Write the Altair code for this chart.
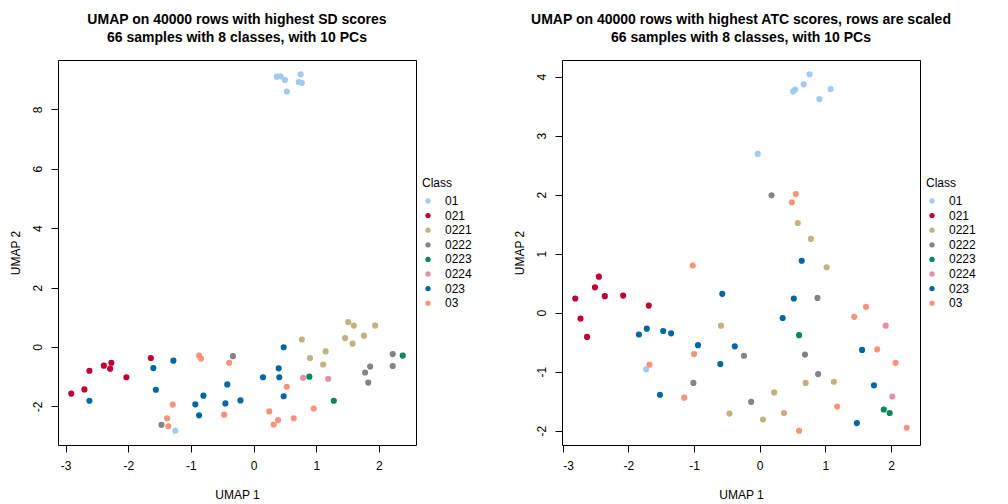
import altair as alt
import pandas as pd

classes = ["01", "021", "0221", "0222", "0223", "0224", "023", "03"]
colors = ["#A1CAF1", "#BE0032", "#C2B280", "#848482", "#008856", "#E68FAC", "#0067A5", "#F99379"]

# Left panel: UMAP on SD scores
left_cls = (["01"] * 8 + ["021"] * 8 + ["0221"] * 10 + ["0222"] * 7 + ["0223"] * 3
            + ["0224"] * 2 + ["023"] * 15 + ["03"] * 13)
left_x = [0.37, 0.43, 0.50, 0.75, 0.72, 0.77, 0.53, -1.25,
          -2.91, -2.70, -2.62, -2.39, -2.27, -2.29, -2.03, -1.64,
          1.51, 1.60, 1.94, 0.77, 1.46, 1.76, 1.58, 1.15, 0.90, 1.11,
          -0.33, -1.47, 2.22, 2.22, 1.86, 1.78, 1.83,
          2.38, 0.89, 1.28,
          0.79, 1.19,
          -2.62, -1.60, -1.56, -1.28, -0.93, -0.80, -0.87, -0.42, -0.45, -0.21, 0.15, 0.48, 0.40, 0.41, 0.48,
          -0.87, -0.84, -0.39, -1.29, -1.38, -1.36, -0.47, 0.25, 0.53, 0.96, 0.64, 0.39, 0.32]
left_y = [9.10, 9.11, 8.99, 9.18, 8.92, 8.89, 8.60, -2.82,
          -1.57, -1.43, -0.80, -0.63, -0.53, -0.73, -1.02, -0.37,
          0.84, 0.72, 0.72, 0.25, 0.30, 0.38, 0.11, -0.15, -0.37, -0.59,
          -0.31, -2.62, -0.24, -0.64, -0.66, -0.86, -1.20,
          -0.29, -1.00, -1.81,
          -1.04, -1.07,
          -1.81, -0.71, -1.44, -0.46, -1.93, -1.64, -2.30, -1.26, -1.90, -1.80, -1.02, -0.01, -0.72, -1.02, -1.66,
          -0.29, -0.39, -0.53, -1.94, -2.40, -2.67, -2.28, -2.17, -1.34, -2.07, -2.40, -2.46, -2.61]

# Right panel: UMAP on ATC scores
right_cls = left_cls
right_x = [0.76, 0.67, 0.54, 0.51, 1.08, 0.91, -0.03, -1.73,
           -2.81, -2.45, -2.51, -2.36, -2.08, -1.69, -2.73, -2.63,
           -0.59, -0.46, 0.05, 0.70, 1.13, 0.22, 0.37, 0.58, 0.78, 1.02,
           -0.24, -1.01, -0.13, 0.88, 0.69, 0.89, 0.18,
           0.60, 1.89, 1.98,
           1.92, 2.02,
           -0.57, -1.84, -1.72, -1.47, -1.35, -0.94, -0.38, -0.60, -1.52, 0.52, 0.35, 1.56, 1.74, 1.48, 0.64,
           -1.02, -1.00, -1.68, -1.15, 1.62, 1.44, 1.79, 2.07, 1.18, 0.60, 2.24, 0.55, 0.49]
right_y = [4.04, 3.87, 3.78, 3.75, 3.79, 3.62, 2.69, -0.96,
           0.24, 0.61, 0.43, 0.28, 0.29, 0.12, -0.10, -0.41,
           -0.22, -1.71, -1.81, -1.19, -1.17, -1.35, -1.70, 1.52, 1.25, 0.77,
           -0.73, -1.19, -1.51, 0.25, -0.71, -1.04, 1.99,
           -0.38, -1.64, -1.70,
           -0.22, -1.42,
           0.32, -0.37, -0.27, -0.31, -0.35, -0.55, -0.57, -0.87, -1.39, 0.24, -0.09, -0.63, -1.23, -1.87, 0.88,
           0.80, -0.70, -0.88, -1.44, 0.10, -0.07, -0.62, -0.85, -1.59, -2.00, -1.95, 2.01, 1.87]

left_title = ["UMAP on 40000 rows with highest SD scores", "66 samples with 8 classes, with 10 PCs"]
right_title = ["UMAP on 40000 rows with highest ATC scores, rows are scaled", "66 samples with 8 classes, with 10 PCs"]
left_xticks = [-3, -2, -1, 0, 1, 2]
left_yticks = [-2, 0, 2, 4, 6, 8]
right_xticks = [-3, -2, -1, 0, 1, 2]
right_yticks = [-2, -1, 0, 1, 2, 3, 4]

FONT = "Liberation Sans"
W, H = 358, 385


def ext(vals):
    lo, hi = min(vals), max(vals)
    d = (hi - lo) * 0.04
    return [lo - d, hi + d]


def panel(xs, ys, cls, title, xticks, yticks):
    df = pd.DataFrame({"x": xs, "y": ys, "cls": cls})
    return alt.Chart(df).mark_circle(size=38, opacity=1).encode(
        x=alt.X("x:Q", scale=alt.Scale(domain=ext(xs), nice=False, zero=False),
                axis=alt.Axis(values=xticks, title="UMAP 1", labelExpr="'' + datum.value")),
        y=alt.Y("y:Q", scale=alt.Scale(domain=ext(ys), nice=False, zero=False),
                axis=alt.Axis(values=yticks, title="UMAP 2", labelExpr="'' + datum.value",
                              labelAngle=-90, labelAlign="center", labelBaseline="bottom")),
        color=alt.Color("cls:N", scale=alt.Scale(domain=classes, range=colors),
                        legend=alt.Legend(title="Class", orient="none", legendX=W + 6, legendY=118)),
    ).properties(width=W, height=H,
                 title=alt.Title(text=title, anchor="middle", fontSize=14, fontWeight="bold",
                                 font=FONT, lineHeight=18, offset=15))


left = panel(left_x, left_y, left_cls, left_title, left_xticks, left_yticks)
right = panel(right_x, right_y, right_cls, right_title, right_xticks, right_yticks)

chart = alt.hconcat(left, right, spacing=39).resolve_legend(color="independent").configure(
    font=FONT, padding={"left": 0, "top": 4, "right": 0, "bottom": 0}
).configure_view(
    stroke="black", strokeWidth=1
).configure_axis(
    grid=False, domain=False, tickColor="black", tickSize=7, labelFontSize=12, titleFontSize=12,
    titleFontWeight="normal", labelColor="black", titleColor="black", labelFont=FONT, titleFont=FONT,
    labelPadding=8
).configure_axisX(
    titlePadding=18
).configure_axisY(
    labelPadding=7, titlePadding=9
).configure_legend(
    symbolType="circle", symbolSize=28, labelFontSize=12, titleFontSize=12, titleFontWeight="normal",
    labelFont=FONT, titleFont=FONT, rowPadding=2.6, labelOffset=11, titlePadding=5, titleColor="black",
    labelColor="black", symbolStrokeWidth=0
)

chart.save("out.html", embed_options={"renderer": "svg", "actions": False})
